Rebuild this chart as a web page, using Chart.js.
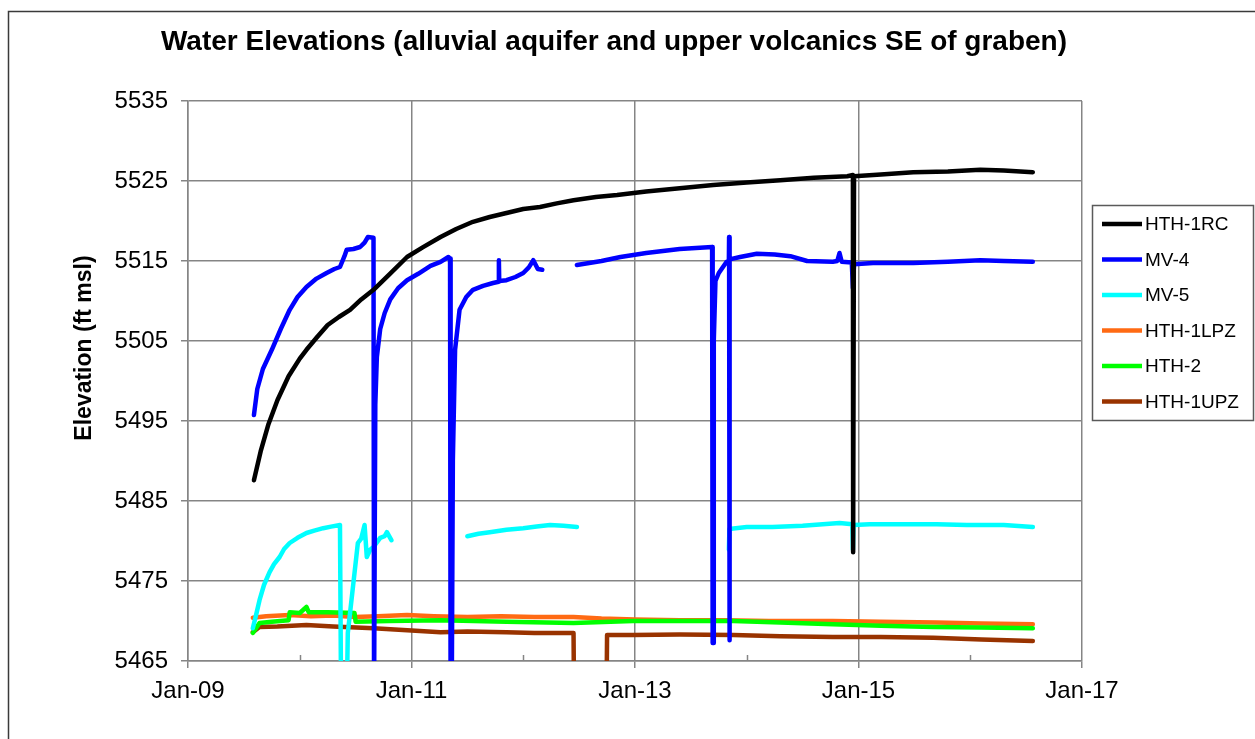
<!DOCTYPE html>
<html>
<head>
<meta charset="utf-8">
<script src="https://cdn.jsdelivr.net/npm/chart.js@4.4.1/dist/chart.umd.min.js"></script>
<style>
  html, body { margin: 0; padding: 0; background: #fff; }
  #wrap { width: 1255px; height: 739px; }
</style>
</head>
<body>
<div id="wrap"><canvas id="chart" width="1255" height="739"></canvas></div>
<script>
(() => {
  "use strict";

  // x values are decimal years (2009.0 = Jan-09), y values are ft msl
  const SERIES_NAMES = ["HTH-1RC", "MV-4", "MV-5", "HTH-1LPZ", "HTH-2", "HTH-1UPZ"];
  const SERIES_COLORS = ["#000000", "#0000ff", "#00ffff", "#ff6a13", "#00ff00", "#993300"];
  const X_TICKS = [2009, 2011, 2013, 2015, 2017];
  const X_TICK_LABELS = ["Jan-09", "Jan-11", "Jan-13", "Jan-15", "Jan-17"];
  const Y_TICKS = [5465, 5475, 5485, 5495, 5505, 5515, 5525, 5535];

  const rcYears = [2009.59, 2009.65, 2009.72, 2009.80, 2009.90, 2010.0, 2010.06, 2010.15, 2010.25, 2010.35,
    2010.45, 2010.55, 2010.66, 2010.8, 2010.96, 2011.1, 2011.26, 2011.4, 2011.55, 2011.7, 2011.85, 2012.0,
    2012.15, 2012.3, 2012.45, 2012.65, 2012.84, 2013.1, 2013.4, 2013.7, 2014.0, 2014.3, 2014.6, 2014.9,
    2014.95, 2014.952, 2014.958, 2014.96, 2015.2, 2015.49, 2015.8, 2016.09, 2016.3, 2016.56];
  const rcElev = [5487.6, 5491.2, 5494.6, 5497.6, 5500.6, 5502.8, 5503.9, 5505.4, 5507.0, 5508.0,
    5508.9, 5510.2, 5511.4, 5513.3, 5515.5, 5516.7, 5518.0, 5519.0, 5519.9, 5520.5, 5521.0, 5521.5,
    5521.75, 5522.2, 5522.6, 5523.0, 5523.25, 5523.7, 5524.1, 5524.5, 5524.8, 5525.1, 5525.4, 5525.6,
    5525.75, 5478.6, 5478.6, 5525.6, 5525.8, 5526.1, 5526.2, 5526.4, 5526.3, 5526.1];

  const mv4Years = [2009.59, 2009.62, 2009.67, 2009.75, 2009.83, 2009.91, 2009.98, 2010.06, 2010.15, 2010.24,
    2010.31, 2010.36, 2010.40, 2010.42, 2010.48, 2010.54, 2010.58, 2010.61, 2010.66, 2010.665, 2010.672,
    2010.676, 2010.69, 2010.72, 2010.76, 2010.81, 2010.88, 2010.96, 2011.06, 2011.17, 2011.26, 2011.33,
    2011.345, 2011.35, 2011.36, 2011.37, 2011.39, 2011.43, 2011.49, 2011.55, 2011.64, 2011.73, 2011.78,
    2011.782, 2011.785, 2011.85, 2011.93, 2012.0, 2012.05, 2012.09, 2012.13, 2012.17, 2012.3,
    2012.48, 2012.7, 2012.87, 2013.1, 2013.4, 2013.69, 2013.695, 2013.70, 2013.705, 2013.72, 2013.75,
    2013.82, 2013.84, 2013.842, 2013.845, 2013.848, 2013.94, 2014.09, 2014.25, 2014.39, 2014.54, 2014.77,
    2014.81, 2014.83, 2014.85, 2014.94, 2014.95, 2014.96, 2015.13, 2015.49, 2015.8, 2016.09, 2016.3, 2016.56];
  const mv4Elev = [5495.75, 5499, 5501.5, 5503.9, 5506.5, 5508.9, 5510.5, 5511.75, 5512.8, 5513.5,
    5514.0, 5514.25, 5515.6, 5516.4, 5516.5, 5516.75, 5517.3, 5518.0, 5517.9, 5460, 5460,
    5497, 5503, 5506.5, 5508.5, 5510.2, 5511.6, 5512.6, 5513.4, 5514.4, 5514.9, 5515.5,
    5515.3, 5460, 5460, 5490, 5503.9, 5508.9, 5510.5, 5511.4, 5511.9, 5512.25, 5512.4,
    5515.1, 5512.5, 5512.6, 5513.0, 5513.5, 5514.2, 5515.1, 5514.0, 5513.9, null,
    5514.5, 5515.0, 5515.5, 5516.0, 5516.5, 5516.75, 5467.25, 5467.25, 5505, 5512.5, 5513.5,
    5514.9, 5515.0, 5518.0, 5467.6, 5515.2, 5515.5, 5515.9, 5515.8, 5515.6, 5515.0, 5514.9,
    5515.0, 5516.0, 5514.9, 5514.8, 5511.6, 5514.6, 5514.75, 5514.75, 5514.9, 5515.1, 5515.0, 5514.9];

  const mv5Years = [2009.58, 2009.61, 2009.64, 2009.68, 2009.73, 2009.77, 2009.82, 2009.86, 2009.91, 2009.98,
    2010.06, 2010.13, 2010.21, 2010.28, 2010.36, 2010.37, 2010.42, 2010.43, 2010.48, 2010.52, 2010.55,
    2010.58, 2010.60, 2010.63, 2010.66, 2010.72, 2010.76, 2010.78, 2010.82, 2011.0,
    2011.50, 2011.6, 2011.70, 2011.85, 2012.0, 2012.12, 2012.24, 2012.36, 2012.48, 2013.0,
    2013.84, 2013.845, 2013.9, 2014.0, 2014.23, 2014.5, 2014.83, 2014.945, 2014.95, 2014.955,
    2015.1, 2015.37, 2015.7, 2015.97, 2016.3, 2016.56];
  const mv5Elev = [5469.1, 5470.8, 5472.6, 5474.5, 5476.1, 5477.1, 5478, 5479, 5479.75, 5480.4,
    5481, 5481.3, 5481.6, 5481.8, 5482, 5460, 5460, 5468.5, 5474.75, 5479.75, 5480.3,
    5482, 5478, 5478.9, 5479.25, 5480.4, 5480.6, 5481.1, 5480.1, null,
    5480.6, 5480.9, 5481.1, 5481.4, 5481.6, 5481.8, 5482, 5481.9, 5481.75, null,
    5478.9, 5481.5, 5481.6, 5481.75, 5481.75, 5481.9, 5482.25, 5482.1, 5478.9, 5482,
    5482.1, 5482.1, 5482.1, 5482, 5482, 5481.75];

  const lpzYears = [2009.58, 2009.7, 2009.91, 2010.1, 2010.3, 2010.49, 2010.7, 2010.96, 2011.2, 2011.5,
    2011.8, 2012.1, 2012.45, 2012.7, 2013.0, 2013.4, 2013.8, 2014.2, 2014.77, 2015.2, 2015.7, 2016.1, 2016.56];
  const lpzElev = [5470.4, 5470.6, 5470.75, 5470.6, 5470.7, 5470.5, 5470.6, 5470.75, 5470.6, 5470.5,
    5470.6, 5470.5, 5470.5, 5470.3, 5470.2, 5470.1, 5470.1, 5470.0, 5470.0, 5469.9, 5469.8, 5469.7, 5469.6];

  const hth2Years = [2009.58, 2009.64, 2009.75, 2009.9, 2009.91, 2010.0, 2010.06, 2010.08, 2010.25, 2010.49,
    2010.5, 2010.8, 2011.26, 2011.85, 2012.45, 2012.98, 2013.5, 2013.88, 2014.3, 2014.77, 2015.2, 2015.67,
    2016.1, 2016.56];
  const hth2Elev = [5468.5, 5469.75, 5469.9, 5470.1, 5471.1, 5471.0, 5471.75, 5471.1, 5471.1, 5471.0,
    5469.9, 5470.0, 5470.1, 5469.9, 5469.75, 5470.0, 5470.0, 5470.0, 5469.8, 5469.6, 5469.4, 5469.25,
    5469.2, 5469.1];

  const upzYears = [2009.58, 2009.64, 2009.8, 2010.06, 2010.3, 2010.66, 2011.0, 2011.26, 2011.5, 2011.85,
    2012.1, 2012.45, 2012.455, 2012.6, 2012.745, 2012.75, 2012.98, 2013.4, 2013.88, 2014.3, 2014.77,
    2015.2, 2015.67, 2016.1, 2016.56];
  const upzElev = [5468.6, 5469.25, 5469.3, 5469.5, 5469.3, 5469.1, 5468.8, 5468.6, 5468.7, 5468.6,
    5468.5, 5468.5, 5460, null, 5460, 5468.25, 5468.25, 5468.3, 5468.25, 5468.1, 5468.0,
    5468.0, 5467.9, 5467.7, 5467.5];

  const ALL_YEARS = [rcYears, mv4Years, mv5Years, lpzYears, hth2Years, upzYears];
  const ALL_ELEV = [rcElev, mv4Elev, mv5Elev, lpzElev, hth2Elev, upzElev];
  // draw order: lower = on top
  const DRAW_ORDER = [0, 1, 2, 4, 3, 5];

  const FONT = "Arial, 'Liberation Sans', sans-serif";
  const GRID = "#858585";

  // ── Extra decorations: frame, title, axis title, minor ticks, legend ────
  const decor = {
    id: "decor",
    beforeDraw(chart) {
      const c = chart.ctx;
      c.save();
      c.fillStyle = "#fff";
      c.fillRect(0, 0, chart.width, chart.height);
      c.restore();
    },
    afterDraw(chart) {
      const c = chart.ctx;
      const x = chart.scales.x;
      const area = chart.chartArea;
      c.save();

      // outer frame
      c.strokeStyle = "#3a3a3a";
      c.lineWidth = 1.5;
      c.strokeRect(8.5, 11.5, 1300, 800);

      // title
      c.fillStyle = "#000";
      c.font = `bold 28px ${FONT}`;
      c.textAlign = "center";
      c.textBaseline = "alphabetic";
      c.fillText("Water Elevations (alluvial aquifer and upper volcanics SE of graben)", 614, 50);

      // y axis title
      c.save();
      c.translate(85, 348);
      c.rotate(-Math.PI / 2);
      c.font = `bold 23px ${FONT}`;
      c.textBaseline = "middle";
      c.fillText("Elevation (ft msl)", 0, 0);
      c.restore();

      // minor ticks on the x axis (every odd year)
      c.strokeStyle = GRID;
      c.lineWidth = 1.5;
      for (let yr = 2010; yr < 2017; yr += 2) {
        const px = Math.round(x.getPixelForValue(yr)) + 0.5;
        c.beginPath();
        c.moveTo(px, area.bottom);
        c.lineTo(px, area.bottom - 6);
        c.stroke();
      }

      // legend
      c.strokeStyle = "#5a5a5a";
      c.lineWidth = 1.5;
      c.strokeRect(1092.5, 205.5, 161, 215);
      c.font = `19px ${FONT}`;
      c.textAlign = "left";
      c.textBaseline = "middle";
      SERIES_NAMES.forEach((name, i) => {
        const ly = 224 + i * 35.5;
        c.strokeStyle = SERIES_COLORS[i];
        c.lineWidth = 4.5;
        c.beginPath();
        c.moveTo(1102, ly);
        c.lineTo(1142, ly);
        c.stroke();
        c.fillStyle = "#000";
        c.fillText(name, 1145, ly + 1);
      });
      c.restore();
    },
  };

  const datasets = SERIES_NAMES.map((name, i) => ({
    label: name,
    data: ALL_YEARS[i].map((yr, j) => ({ x: yr, y: ALL_ELEV[i][j] })),
    borderColor: SERIES_COLORS[i],
    backgroundColor: SERIES_COLORS[i],
    borderWidth: 4.5,
    borderJoinStyle: "round",
    borderCapStyle: "round",
    pointRadius: 0,
    tension: 0,
    spanGaps: false,
    clip: 0,
    order: DRAW_ORDER[i],
  }));

  new Chart(document.getElementById("chart"), {
    type: "line",
    data: { datasets },
    plugins: [decor],
    options: {
      responsive: false,
      animation: false,
      events: [],
      layout: { padding: { left: 0, top: 101, right: 173, bottom: 0 } },
      plugins: {
        legend: { display: false },
        title: { display: false },
        tooltip: { enabled: false },
      },
      scales: {
        x: {
          type: "linear",
          min: 2009,
          max: 2017,
          afterBuildTicks: (s) => { s.ticks = X_TICKS.map((v) => ({ value: v })); },
          afterFit: (s) => { s.height = 78; },
          ticks: {
            callback: (v) => X_TICK_LABELS[X_TICKS.indexOf(v)],
            font: { family: FONT, size: 24 },
            color: "#000",
            padding: 9,
            maxRotation: 0,
          },
          grid: { color: GRID, lineWidth: 1.5, tickLength: 7 },
          border: { color: GRID, width: 1.5 },
        },
        y: {
          type: "linear",
          min: 5465,
          max: 5535,
          afterBuildTicks: (s) => { s.ticks = Y_TICKS.map((v) => ({ value: v })); },
          afterFit: (s) => { s.width = 188; },
          ticks: {
            callback: (v) => String(v),
            font: { family: FONT, size: 24 },
            color: "#000",
            padding: 13,
          },
          grid: { color: GRID, lineWidth: 1.5, tickLength: 7 },
          border: { color: GRID, width: 1.5 },
        },
      },
    },
  });
})();
</script>
</body>
</html>
